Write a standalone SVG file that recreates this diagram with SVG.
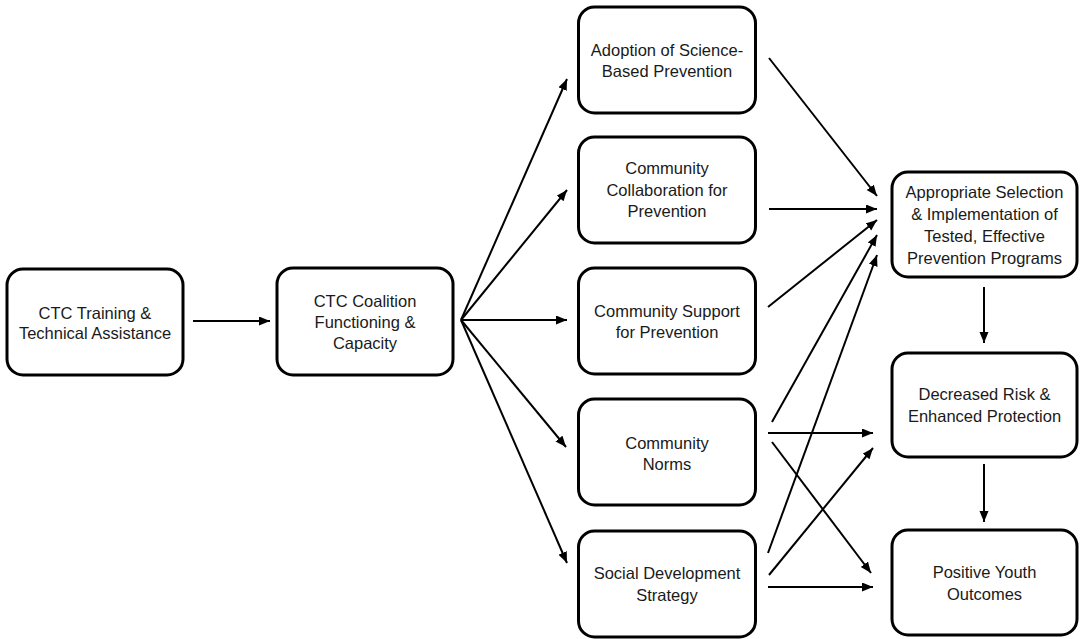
<svg xmlns="http://www.w3.org/2000/svg" width="1080" height="639" viewBox="0 0 1080 639">
  <style>
    .box { fill: #ffffff; stroke: #000000; stroke-width: 3; }
    .lbl { font-family: "Liberation Sans", Arial, sans-serif; font-size: 16.5px; fill: #1a1a1a; text-anchor: middle; }
    .edge { stroke: #000000; stroke-width: 2; fill: none; marker-end: url(#arrow); }
  </style>
  <defs>
    <marker id="arrow" markerUnits="userSpaceOnUse" markerWidth="12" markerHeight="10" refX="11" refY="4.5" orient="auto">
      <path d="M0,0 L11,4.5 L0,9 z" fill="#000000"/>
    </marker>
  </defs>
  <rect width="1080" height="639" fill="#ffffff"/>

  <g id="connectors">
    <line class="edge" x1="193" y1="321" x2="270" y2="321"/>
    <line class="edge" x1="461" y1="320" x2="567" y2="79"/>
    <line class="edge" x1="461" y1="320" x2="567" y2="190"/>
    <line class="edge" x1="461" y1="320" x2="567" y2="320"/>
    <line class="edge" x1="461" y1="320" x2="566" y2="447"/>
    <line class="edge" x1="461" y1="320" x2="567" y2="563"/>
    <line class="edge" x1="769" y1="58" x2="877" y2="196"/>
    <line class="edge" x1="769" y1="209" x2="877" y2="209"/>
    <line class="edge" x1="768" y1="307" x2="877" y2="220"/>
    <line class="edge" x1="772" y1="422" x2="877" y2="235"/>
    <line class="edge" x1="768" y1="553" x2="877" y2="255"/>
    <line class="edge" x1="768" y1="433" x2="873" y2="433"/>
    <line class="edge" x1="772" y1="442" x2="871" y2="573"/>
    <line class="edge" x1="769" y1="575" x2="873" y2="448"/>
    <line class="edge" x1="768" y1="587" x2="873" y2="587"/>
    <line class="edge" x1="984" y1="287" x2="984" y2="343"/>
    <line class="edge" x1="984" y1="464" x2="984" y2="522"/>
  </g>

  <g id="n-training">
    <rect class="box" x="7" y="269" width="176" height="106" rx="16"/>
    <text class="lbl" x="95" y="318.5">CTC Training &amp;</text>
    <text class="lbl" x="95" y="339">Technical Assistance</text>
  </g>
  <g id="n-coalition">
    <rect class="box" x="277" y="268" width="176" height="107" rx="16"/>
    <text class="lbl" x="365" y="307">CTC Coalition</text>
    <text class="lbl" x="365" y="328">Functioning &amp;</text>
    <text class="lbl" x="365" y="349">Capacity</text>
  </g>
  <g id="n-adoption">
    <rect class="box" x="578.5" y="7" width="177" height="106" rx="16"/>
    <text class="lbl" x="667" y="55.5">Adoption of Science-</text>
    <text class="lbl" x="667" y="77">Based Prevention</text>
  </g>
  <g id="n-collaboration">
    <rect class="box" x="578.5" y="137" width="177" height="106" rx="16"/>
    <text class="lbl" x="667" y="174">Community</text>
    <text class="lbl" x="667" y="195.5">Collaboration for</text>
    <text class="lbl" x="667" y="217">Prevention</text>
  </g>
  <g id="n-support">
    <rect class="box" x="578.5" y="268" width="177" height="106" rx="16"/>
    <text class="lbl" x="667" y="316.5">Community Support</text>
    <text class="lbl" x="667" y="338">for Prevention</text>
  </g>
  <g id="n-norms">
    <rect class="box" x="578.5" y="399" width="177" height="106" rx="16"/>
    <text class="lbl" x="667" y="448.5">Community</text>
    <text class="lbl" x="667" y="469.5">Norms</text>
  </g>
  <g id="n-sds">
    <rect class="box" x="578.5" y="531" width="177" height="106" rx="16"/>
    <text class="lbl" x="667" y="579">Social Development</text>
    <text class="lbl" x="667" y="600.5">Strategy</text>
  </g>
  <g id="n-selection">
    <rect class="box" x="892" y="172" width="185" height="105" rx="16"/>
    <text class="lbl" x="984.5" y="197.5">Appropriate Selection</text>
    <text class="lbl" x="984.5" y="219.5">&amp; Implementation of</text>
    <text class="lbl" x="984.5" y="241.5">Tested, Effective</text>
    <text class="lbl" x="984.5" y="263.5">Prevention Programs</text>
  </g>
  <g id="n-risk">
    <rect class="box" x="892" y="353" width="185" height="104" rx="16"/>
    <text class="lbl" x="984.5" y="400">Decreased Risk &amp;</text>
    <text class="lbl" x="984.5" y="422">Enhanced Protection</text>
  </g>
  <g id="n-outcomes">
    <rect class="box" x="892" y="530" width="185" height="105" rx="16"/>
    <text class="lbl" x="984.5" y="577.5">Positive Youth</text>
    <text class="lbl" x="984.5" y="599.5">Outcomes</text>
  </g>
</svg>
